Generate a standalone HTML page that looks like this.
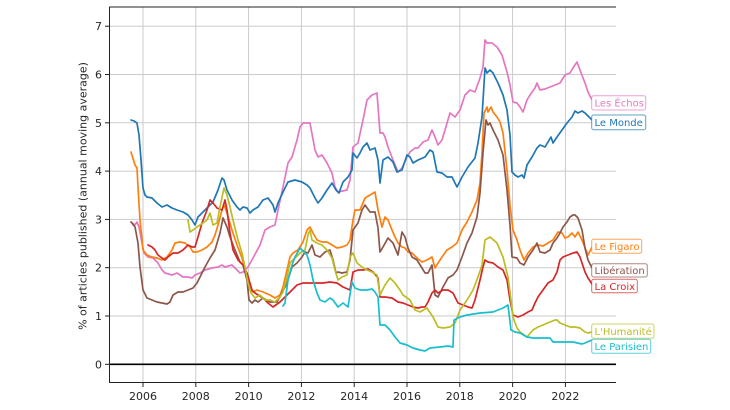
<!DOCTYPE html>
<html><head><meta charset="utf-8"><style>
html,body{margin:0;padding:0;background:#fff;}
svg{display:block;}
text{font-family:"DejaVu Sans","Liberation Sans",sans-serif;}
</style></head><body>
<svg width="730" height="410" viewBox="0 0 730 410" xmlns="http://www.w3.org/2000/svg">
<rect width="730" height="410" fill="#fff"/>
<!-- grid -->
<g stroke="#cbcbcb" stroke-width="1">
<line x1="143" y1="7" x2="143" y2="382"/>
<line x1="195.8" y1="7" x2="195.8" y2="382"/>
<line x1="248.6" y1="7" x2="248.6" y2="382"/>
<line x1="301.4" y1="7" x2="301.4" y2="382"/>
<line x1="354.2" y1="7" x2="354.2" y2="382"/>
<line x1="407" y1="7" x2="407" y2="382"/>
<line x1="459.8" y1="7" x2="459.8" y2="382"/>
<line x1="512.6" y1="7" x2="512.6" y2="382"/>
<line x1="565.4" y1="7" x2="565.4" y2="382"/>
<line x1="109" y1="316" x2="616" y2="316"/>
<line x1="109" y1="267.7" x2="616" y2="267.7"/>
<line x1="109" y1="219.4" x2="616" y2="219.4"/>
<line x1="109" y1="171.1" x2="616" y2="171.1"/>
<line x1="109" y1="122.8" x2="616" y2="122.8"/>
<line x1="109" y1="74.5" x2="616" y2="74.5"/>
<line x1="109" y1="26.2" x2="616" y2="26.2"/>
</g>
<!-- zero line -->
<line x1="109" y1="364.3" x2="616" y2="364.3" stroke="#000" stroke-width="1.6"/>
<!-- spines -->
<g stroke="#222" stroke-width="1">
<line x1="109.5" y1="7" x2="109.5" y2="383"/>
<line x1="109" y1="382.5" x2="616" y2="382.5"/>
<line x1="109" y1="7" x2="616" y2="7"/>
</g>
<!-- ticks -->
<g stroke="#222" stroke-width="1">
<line x1="105" y1="364.3" x2="109.5" y2="364.3"/>
<line x1="105" y1="316" x2="109.5" y2="316"/>
<line x1="105" y1="267.7" x2="109.5" y2="267.7"/>
<line x1="105" y1="219.4" x2="109.5" y2="219.4"/>
<line x1="105" y1="171.1" x2="109.5" y2="171.1"/>
<line x1="105" y1="122.8" x2="109.5" y2="122.8"/>
<line x1="105" y1="74.5" x2="109.5" y2="74.5"/>
<line x1="105" y1="26.2" x2="109.5" y2="26.2"/>
<line x1="143" y1="382.5" x2="143" y2="387"/>
<line x1="195.8" y1="382.5" x2="195.8" y2="387"/>
<line x1="248.6" y1="382.5" x2="248.6" y2="387"/>
<line x1="301.4" y1="382.5" x2="301.4" y2="387"/>
<line x1="354.2" y1="382.5" x2="354.2" y2="387"/>
<line x1="407" y1="382.5" x2="407" y2="387"/>
<line x1="459.8" y1="382.5" x2="459.8" y2="387"/>
<line x1="512.6" y1="382.5" x2="512.6" y2="387"/>
<line x1="565.4" y1="382.5" x2="565.4" y2="387"/>
</g>
<!-- tick labels -->
<g font-size="11" fill="#262626" text-anchor="end">
<text x="102" y="368.3">0</text>
<text x="102" y="320">1</text>
<text x="102" y="271.7">2</text>
<text x="102" y="223.4">3</text>
<text x="102" y="175.1">4</text>
<text x="102" y="126.8">5</text>
<text x="102" y="78.5">6</text>
<text x="102" y="30.2">7</text>
</g>
<g font-size="11" fill="#262626" text-anchor="middle">
<text x="143" y="400">2006</text>
<text x="195.8" y="400">2008</text>
<text x="248.6" y="400">2010</text>
<text x="301.4" y="400">2012</text>
<text x="354.2" y="400">2014</text>
<text x="407" y="400">2016</text>
<text x="459.8" y="400">2018</text>
<text x="512.6" y="400">2020</text>
<text x="565.4" y="400">2022</text>
</g>
<text transform="translate(86.5,196) rotate(-90)" font-size="11" fill="#262626" text-anchor="middle">% of articles published (annual moving average)</text>
<!-- series -->
<g fill="none" stroke-width="1.7" stroke-linejoin="round" stroke-linecap="round">
<polyline stroke="#e377c2" points="131,222 135,225 137,222 139,227 142,243 144,253 148,257 153,258 158,263 162,270 165,273 172,275 177,273 183,277 188,277 192,278 195,275 200,273 205,270 212,268 218,267 222,265 225,267 232,265 237,270 240,273 243,272 248,267 253,258 260,245 265,230 270,227 275,225 278,210 283,187 288,163 292,157 297,140 300,127 303,123 310,123 315,150 318,157 322,155 327,163 332,173 335,187 338,192 347,190 350,180 353,147 358,143 363,120 367,100 372,95 377,93 380,133 383,133 385,137 388,147 393,160 398,172 402,168 407,157 410,152 415,148 418,148 423,142 428,140 432,130 435,137 438,145 442,140 445,130 450,113 455,117 460,110 465,95 470,90 475,92 480,78 483,67 485,40 487,43 492,43 497,47 502,55 507,72 510,85 513,102 517,103 520,107 523,112 527,100 530,95 535,88 537,83 540,90 545,89 550,87 555,85 560,83 565,75 570,73 573,68 577,62 580,70 585,83 588,92 592,100"/>
<polyline stroke="#1f77b4" points="131,120 134,121 137,123 139,135 141,160 143,188 145,195 147,197 152,198 157,203 162,207 167,205 172,208 177,210 183,212 188,215 192,220 195,225 198,217 203,212 208,207 213,202 218,190 222,178 224,180 227,190 232,200 237,207 240,210 243,207 247,208 250,213 253,210 258,207 263,200 268,198 273,205 275,212 278,203 283,192 288,182 295,180 302,182 307,185 310,188 315,198 318,203 322,198 327,190 332,183 336,190 339,193 343,182 348,177 352,170 353,153 357,158 360,153 363,147 367,143 370,150 375,148 378,160 380,183 383,160 388,157 393,162 397,172 402,170 407,155 410,157 413,163 418,160 425,157 430,150 433,152 437,172 442,173 447,177 452,177 457,187 462,177 468,167 475,158 478,143 482,117 485,68 487,73 490,70 493,73 498,83 503,95 507,110 510,135 512,172 515,175 518,177 522,175 524,178 527,165 532,157 537,148 540,145 545,147 548,142 551,137 553,143 557,137 562,130 567,123 572,117 575,111 578,113 582,111 585,113 588,116 592,120"/>
<polyline stroke="#ff7f0e" points="131,152 135,165 137,168 138,187 140,220 143,250 147,255 152,257 157,258 162,260 167,257 172,250 175,243 180,242 185,243 190,247 193,252 197,252 202,250 207,247 212,242 215,235 218,225 222,210 224,205 227,213 232,230 237,245 242,258 247,277 250,290 253,292 257,290 263,292 270,295 275,298 280,295 283,287 287,270 290,257 293,253 298,250 303,242 307,230 310,227 313,233 317,240 322,242 327,242 332,245 337,248 342,247 347,245 350,240 353,220 355,210 360,210 365,198 370,195 375,192 378,210 382,227 385,217 388,220 392,230 395,237 398,243 402,247 405,248 408,252 412,253 417,258 422,262 427,260 432,257 435,268 438,263 442,257 447,250 452,247 457,243 462,230 467,222 472,212 477,200 480,183 482,153 484,113 487,107 488,112 491,107 493,112 497,117 500,122 503,133 507,170 510,205 513,230 517,240 520,250 524,260 528,253 533,247 538,245 543,246 548,243 553,240 558,232 562,233 565,238 568,237 572,233 575,237 578,232 582,240 585,248 588,255 592,247"/>
<polyline stroke="#8c564b" points="131,222 135,227 138,243 140,267 143,290 147,298 152,300 157,302 162,303 167,304 170,302 173,295 178,292 183,292 188,290 193,288 197,283 200,277 205,267 210,258 215,250 220,233 223,218 227,227 230,237 235,250 240,262 243,265 247,280 249,300 252,303 255,300 258,302 263,298 270,302 277,302 282,293 287,283 292,267 297,263 302,257 305,252 308,253 312,245 315,255 320,257 325,252 330,250 333,260 336,273 338,272 342,273 347,272 350,260 353,230 358,223 362,210 365,205 370,212 375,212 378,228 380,252 383,247 388,238 393,243 398,255 402,232 405,237 408,248 412,257 417,260 422,268 425,273 428,273 432,265 435,295 438,297 443,287 448,278 453,275 457,270 462,257 467,243 472,233 477,217 480,193 483,153 486,120 488,125 490,123 493,130 498,140 503,155 507,190 510,225 512,257 517,258 520,263 524,265 528,257 533,250 537,243 540,252 545,253 550,250 553,243 557,238 560,233 563,227 567,222 570,217 573,215 575,215 578,218 582,230 585,248 588,260 592,268"/>
<polyline stroke="#d62728" points="148,245 152,247 155,250 158,255 162,258 165,260 168,257 173,253 178,253 183,250 188,245 192,247 195,247 198,237 202,223 207,210 210,200 213,203 217,208 222,210 225,200 227,210 230,233 233,250 238,260 243,265 247,273 252,290 255,293 258,295 263,298 268,303 273,307 280,302 287,295 292,290 297,285 303,283 310,283 317,283 323,283 330,282 337,283 343,287 350,290 353,272 358,270 363,270 368,269 373,272 378,278 380,297 385,297 392,298 398,302 403,303 408,305 413,307 418,308 422,307 425,307 428,302 432,293 435,290 438,293 443,290 448,290 453,293 458,303 463,305 468,307 472,308 475,300 480,280 483,267 485,260 488,262 493,263 498,267 503,270 507,280 510,300 513,315 518,317 523,315 528,312 532,310 535,303 538,297 543,290 548,283 553,280 557,272 560,260 563,257 568,255 573,253 577,252 580,257 582,263 585,272 588,278 592,284"/>
<polyline stroke="#bcbd22" points="188,220 190,232 193,230 197,227 200,225 203,223 207,220 210,213 213,225 217,223 220,207 224,188 227,195 230,207 233,220 238,240 242,253 245,267 248,283 251,293 255,298 260,295 265,300 270,300 275,302 280,297 283,292 287,277 290,263 295,258 300,253 305,250 308,235 310,230 312,240 317,243 322,245 327,250 332,258 335,270 338,280 342,277 347,275 350,257 353,253 357,263 362,267 367,270 372,272 377,275 380,295 385,285 390,278 395,283 400,290 403,295 410,300 415,310 420,312 427,308 433,317 438,327 443,328 450,327 455,323 460,310 467,300 473,290 478,277 482,265 485,240 490,237 497,243 503,257 508,277 511,300 513,317 517,328 520,332 527,337 533,330 538,327 543,325 550,322 555,320 557,320 560,323 565,325 570,327 575,327 580,328 585,332 588,333 592,332"/>
<polyline stroke="#17becf" points="283,306 285,303 288,280 292,265 295,257 300,248 303,251 307,255 310,265 313,280 317,293 320,300 325,302 330,298 333,300 338,307 343,303 348,307 352,282 355,288 360,290 367,290 372,289 375,292 378,297 380,325 385,325 390,330 395,337 400,343 407,345 413,348 420,350 425,351 430,348 440,347 448,346 453,347 454,320 460,317 467,315 480,313 493,312 503,308 508,305 511,330 515,332 520,333 527,337 533,338 550,338 553,342 573,342 582,344 585,343 592,340"/>
</g>
<!-- labels -->
<g font-size="10" stroke-width="1">
<rect x="591.7" y="95.7" width="54" height="14.3" rx="2" fill="#fff" stroke="#e377c2" stroke-opacity="0.7"/>
<text x="594.5" y="106.6" fill="#e377c2" stroke="none">Les Échos</text>
<rect x="591.7" y="115" width="54" height="14.7" rx="2" fill="#fff" stroke="#1f77b4" stroke-opacity="0.7"/>
<text x="594.5" y="126.2" fill="#1f77b4" stroke="none">Le Monde</text>
<rect x="591.7" y="239.3" width="50" height="14" rx="2" fill="#fff" stroke="#ff7f0e" stroke-opacity="0.7"/>
<text x="594.5" y="250.2" fill="#ff7f0e" stroke="none">Le Figaro</text>
<rect x="591.7" y="263.7" width="55.6" height="13.3" rx="2" fill="#fff" stroke="#8c564b" stroke-opacity="0.7"/>
<text x="594.5" y="274.2" fill="#8c564b" stroke="none">Libération</text>
<rect x="591.7" y="279.3" width="45.6" height="13.4" rx="2" fill="#fff" stroke="#d62728" stroke-opacity="0.7"/>
<text x="594.5" y="289.8" fill="#d62728" stroke="none">La Croix</text>
<rect x="591.7" y="324" width="62.3" height="14.3" rx="2" fill="#fff" stroke="#bcbd22" stroke-opacity="0.7"/>
<text x="594.5" y="334.9" fill="#bcbd22" stroke="none">L'Humanité</text>
<rect x="591.7" y="339.3" width="59" height="14" rx="2" fill="#fff" stroke="#17becf" stroke-opacity="0.7"/>
<text x="594.5" y="350.1" fill="#17becf" stroke="none">Le Parisien</text>
</g>
</svg>
</body></html>
